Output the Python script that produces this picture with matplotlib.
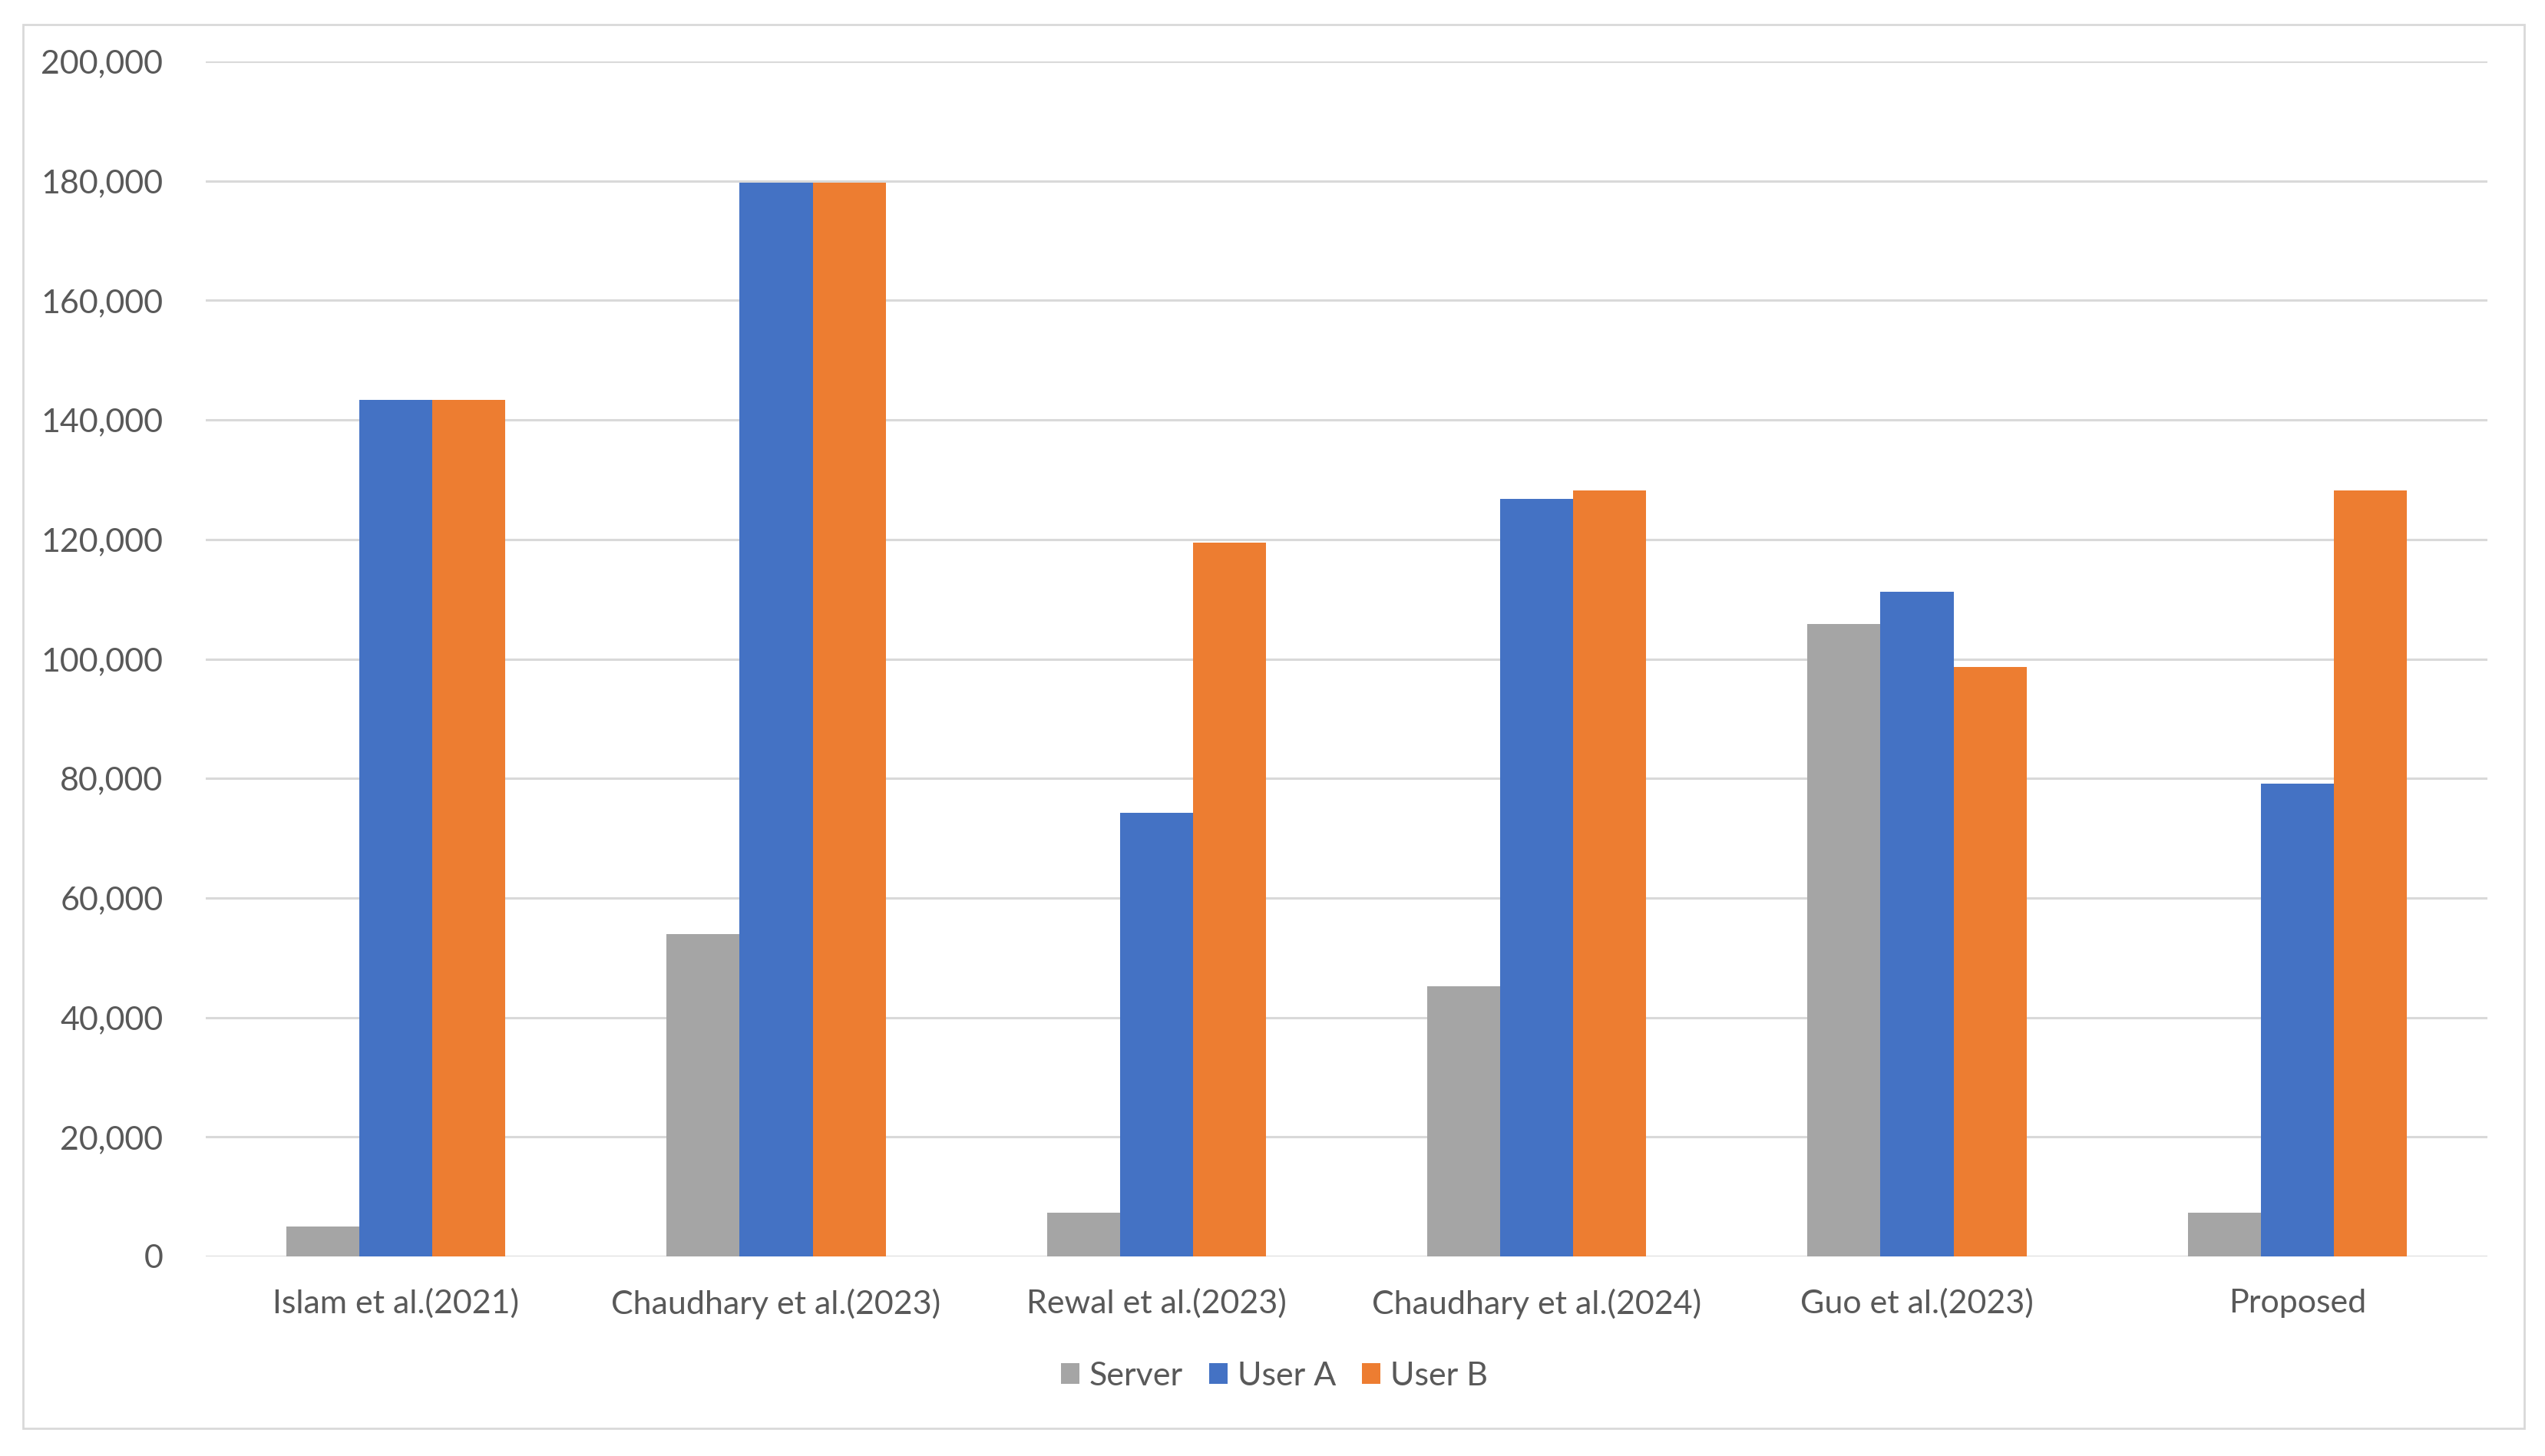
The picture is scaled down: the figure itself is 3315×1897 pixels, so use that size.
import numpy as np
import matplotlib
matplotlib.use("Agg")
import matplotlib.pyplot as plt
from matplotlib.patches import Patch, Rectangle
from matplotlib.ticker import FuncFormatter

# --- data ---
schemes = ["Islam et al.(2021)", "Chaudhary et al.(2023)", "Rewal et al.(2023)",
           "Chaudhary et al.(2024)", "Guo et al.(2023)", "Proposed"]
server = [5000, 54000, 7300, 45200, 105800, 7300]
user_a = [143400, 179700, 74300, 126800, 111300, 79100]
user_b = [143400, 179700, 119400, 128200, 98600, 128200]
series_names = ["Server", "User A", "User B"]
colors = ["#A5A5A5", "#4472C4", "#ED7D31"]
yticks = np.arange(0, 200001, 20000)

plt.rcParams["font.family"] = ["Lato", "DejaVu Sans"]
text_col = "#595959"
grid_col = "#D9D9D9"

W, H = 3316, 1897
fig = plt.figure(figsize=(W / 100, H / 100), dpi=100)

# chart area border
fig.patches.append(Rectangle((30 / W, 1 - 1861 / H), 3258 / W, 1829 / H,
                             transform=fig.transFigure, fill=False,
                             edgecolor=grid_col, lw=2))

ax = fig.add_axes([268 / W, 1 - 1637 / H, (3240 - 268) / W, (1637 - 80) / H])

x = np.arange(len(schemes))
bw = 0.192
for i, (vals, c) in enumerate(zip([server, user_a, user_b], colors)):
    ax.bar(x + (i - 1) * bw, vals, width=bw, color=c, zorder=3)

ax.set_xlim(-0.5, len(schemes) - 0.5)
ax.set_ylim(0, 200000)
ax.set_yticks(yticks)
ax.yaxis.set_major_formatter(FuncFormatter(lambda v, p: f"{int(v):,}"))
ax.set_xticks(x)
ax.set_xticklabels(schemes)
ax.grid(axis="y", color=grid_col, lw=2.2, zorder=0)
ax.set_axisbelow(True)
for s in ax.spines.values():
    s.set_visible(False)
ax.tick_params(axis="both", length=0, labelsize=31, colors=text_col)
ax.tick_params(axis="y", pad=40)
ax.tick_params(axis="x", pad=30)

handles = [Patch(facecolor=c, edgecolor="none") for c in colors]
fig.legend(handles, series_names, loc="center", ncol=3, frameon=False,
           bbox_to_anchor=(1660 / W, 1 - 1793 / H), fontsize=31,
           labelcolor=text_col, handlelength=0.55, handleheight=0.6,
           handletextpad=0.3, columnspacing=0.8)

fig.savefig("out.png", dpi=100, facecolor="white")
